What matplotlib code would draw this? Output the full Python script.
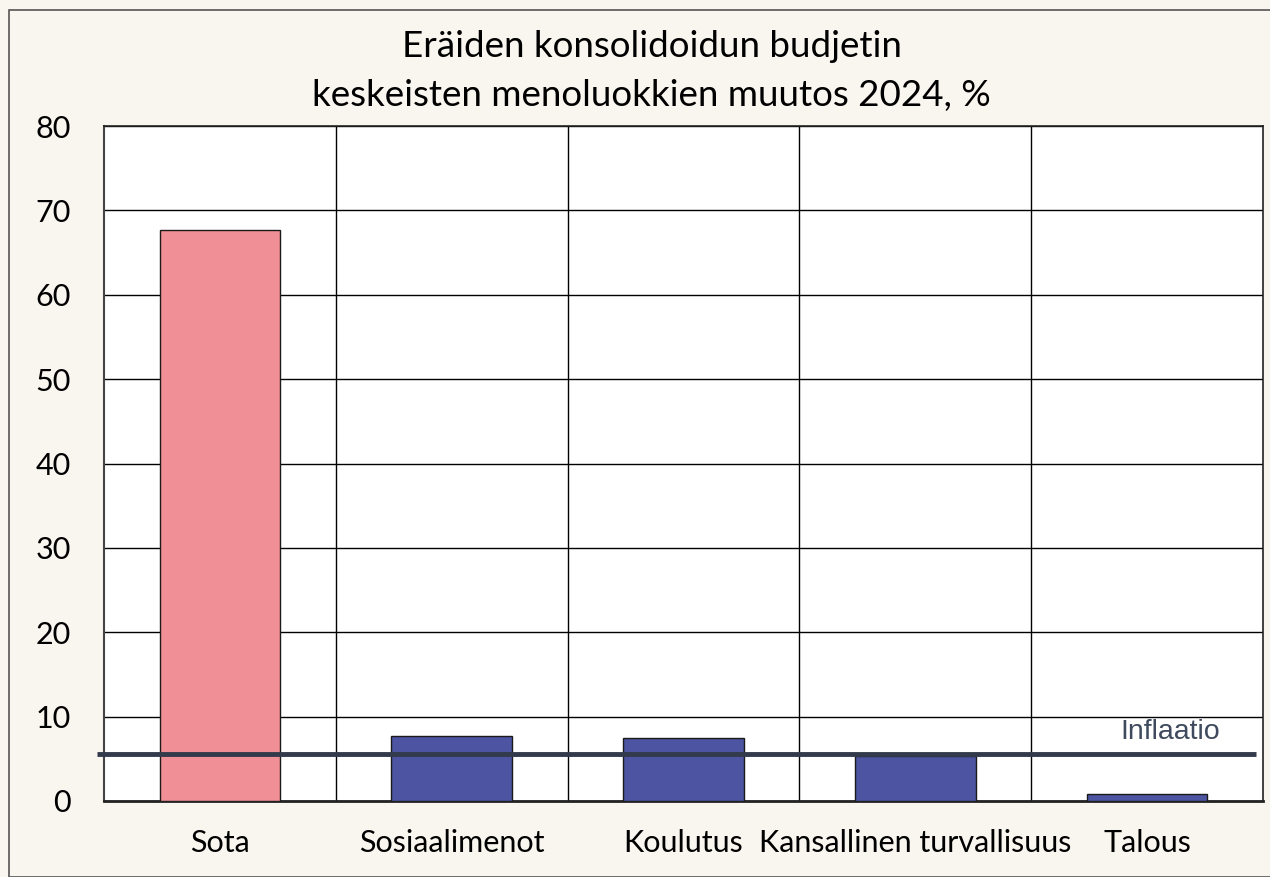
import matplotlib
matplotlib.use("Agg")
import matplotlib.pyplot as plt
from matplotlib.patches import Rectangle
import numpy as np

categories = ["Sota", "Sosiaalimenot", "Koulutus", "Kansallinen turvallisuus", "Talous"]
values = [67.7, 7.7, 7.5, 5.3, 0.8]
bar_colors = ["#F18F96", "#4D55A3", "#4D55A3", "#4D55A3", "#4D55A3"]
inflation = 5.6
yticks = [0, 10, 20, 30, 40, 50, 60, 70, 80]
title = "Eräiden konsolidoidun budjetin\nkeskeisten menoluokkien muutos 2024, %"

plt.rcParams['font.family'] = ['Lato', 'DejaVu Sans']

W, H = 1270, 877
fig = plt.figure(figsize=(W/100, H/100), dpi=100, facecolor="#F9F5EF")
# outer border
fig.patches.append(Rectangle((9/W, 0), 1.5, 1 - 10/H, transform=fig.transFigure,
                             fill=False, edgecolor="#555555", linewidth=1.2))

left, right, top, bottom = 104, 1263, 126, 801
ax = fig.add_axes([left/W, 1 - bottom/H, (right-left)/W, (bottom-top)/H])
ax.set_facecolor("white")

x = np.arange(len(categories))
ax.bar(x, values, width=0.52, color=bar_colors, edgecolor="#1a1a1a", linewidth=1.0, zorder=3)

ax.set_xlim(-0.5, len(categories) - 0.5)
ax.set_ylim(0, 80)
ax.set_yticks(yticks)
ax.set_yticklabels([str(t) for t in yticks], fontsize=22)
ax.set_xticks(x)
ax.set_xticklabels(categories, fontsize=22)
ax.tick_params(axis='both', length=0)
ax.tick_params(axis='y', pad=24)
ax.tick_params(axis='x', pad=20)

ax.yaxis.grid(True, color="black", linewidth=1.0, zorder=1)
for b in np.arange(0.5, len(categories) - 0.5, 1.0):
    ax.axvline(b, color="black", linewidth=1.0, zorder=1)
ax.set_axisbelow(True)

for s in ["top", "right"]:
    ax.spines[s].set_color("#222222")
    ax.spines[s].set_linewidth(1.2)
ax.spines["left"].set_color("#444444")
ax.spines["left"].set_linewidth(1.5)
ax.spines["bottom"].set_color("#222222")
ax.spines["bottom"].set_linewidth(2.0)

# inflation line
ax.plot([-0.53, 4.47], [inflation, inflation], color="#323A4B", linewidth=3.5,
        zorder=5, clip_on=False, solid_capstyle="butt")
ax.text(4.10, inflation + 2.6, "Inflaatio", fontsize=20.5, color="#3F4A5E",
        family=["Liberation Sans", "DejaVu Sans"], ha="center", va="center", zorder=6)

fig.text(0.513, 1 - 71/H, title, ha="center", va="center", fontsize=26.5,
         linespacing=1.62, color="black")

fig.savefig("out.png", dpi=100, facecolor=fig.get_facecolor())
